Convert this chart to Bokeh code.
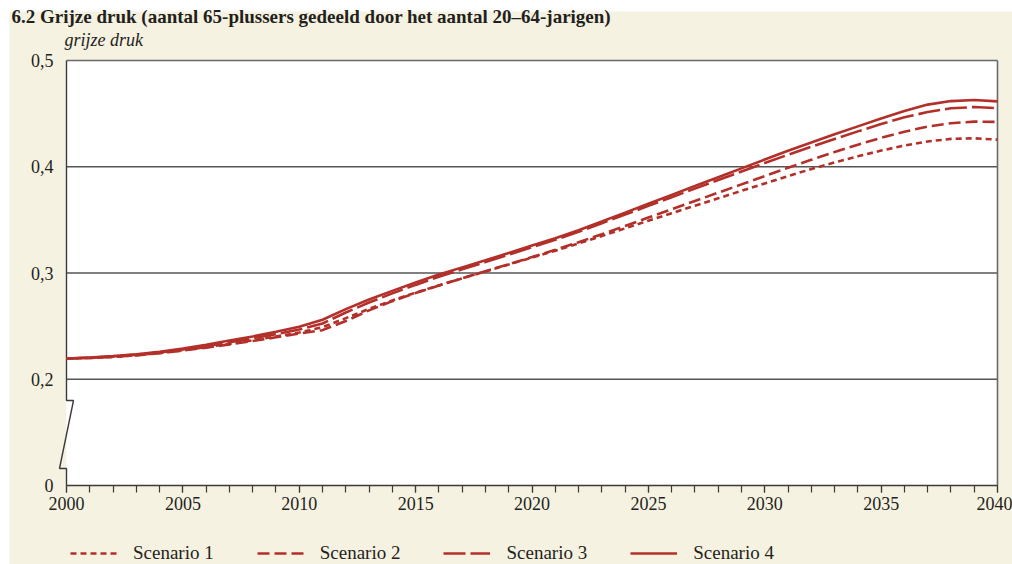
from bokeh.plotting import figure
from bokeh.models import (Range1d, LinearAxis, FixedTicker, SingleIntervalTicker,
                          Label, Legend, LegendItem)
from bokeh.embed import file_html
from bokeh.resources import INLINE

# ---------------- data ----------------
years = list(range(2000, 2041))

scenario_1 = [0.2195, 0.2200, 0.2211, 0.2227, 0.2248, 0.2273, 0.2302, 0.2333, 0.2366, 0.2402,
              0.2440, 0.2490, 0.2575, 0.2662, 0.2742, 0.2815, 0.2883, 0.2950, 0.3015, 0.3080,
              0.3145, 0.3210, 0.3278, 0.3348, 0.3420, 0.3492, 0.3563, 0.3633, 0.3703, 0.3773,
              0.3843, 0.3912, 0.3978, 0.4040, 0.4098, 0.4152, 0.4200, 0.4238, 0.4262, 0.4268,
              0.4255]
scenario_2 = [0.2195, 0.2200, 0.2210, 0.2225, 0.2245, 0.2270, 0.2298, 0.2328, 0.2360, 0.2395,
              0.2430, 0.2462, 0.2548, 0.2648, 0.2735, 0.2812, 0.2882, 0.2950, 0.3017, 0.3083,
              0.3150, 0.3218, 0.3290, 0.3365, 0.3443, 0.3522, 0.3600, 0.3678, 0.3756, 0.3834,
              0.3912, 0.3990, 0.4065, 0.4138, 0.4208, 0.4272, 0.4330, 0.4378, 0.4410, 0.4425,
              0.4422]
scenario_3 = [0.2195, 0.2203, 0.2215, 0.2232, 0.2253, 0.2280, 0.2312, 0.2348, 0.2385, 0.2425,
              0.2468, 0.2525, 0.2628, 0.2722, 0.2808, 0.2888, 0.2965, 0.3035, 0.3103, 0.3172,
              0.3242, 0.3313, 0.3388, 0.3468, 0.3550, 0.3632, 0.3713, 0.3794, 0.3875, 0.3955,
              0.4035, 0.4113, 0.4188, 0.4262, 0.4333, 0.4402, 0.4465, 0.4515, 0.4550, 0.4562,
              0.4552]
scenario_4 = [0.2195, 0.2205, 0.2218, 0.2235, 0.2258, 0.2290, 0.2325, 0.2365, 0.2403, 0.2447,
              0.2495, 0.2560, 0.2660, 0.2750, 0.2832, 0.2910, 0.2985, 0.3053, 0.3120, 0.3188,
              0.3258, 0.3328, 0.3403, 0.3485, 0.3568, 0.3652, 0.3735, 0.3818, 0.3902, 0.3985,
              0.4068, 0.4150, 0.4228, 0.4305, 0.4380, 0.4455, 0.4525, 0.4585, 0.4618, 0.4628,
              0.4615]

series_names = ["Scenario 1", "Scenario 2", "Scenario 3", "Scenario 4"]
series_values = [scenario_1, scenario_2, scenario_3, scenario_4]

# y axis is broken: the bottom tick position stands for 0
y_ticks = [0.1, 0.2, 0.3, 0.4, 0.5]
y_tick_labels = ["0", "0,2", "0,3", "0,4", "0,5"]
grid_values = [0.2, 0.3, 0.4]

title_text = "6.2  Grijze druk (aantal 65-plussers gedeeld door het aantal 20\u201364-jarigen)"
y_title = "grijze druk"

# ---------------- style / layout ----------------
W, H = 1012, 564
BEIGE = "#f6f2e1"
RED = "#b3302a"
TEXT = "#231f20"
AXIS = "#3a3a3a"
GRID = "#555555"
BORDER = "#6a6a6a"
FONT = "Liberation Serif"
DASHES = ["6 4", "12 5", "22 5", "solid"]

X0, X1 = 2000, 2040          # x extent of plot area
Y0, Y1 = 0.1, 0.5            # y extent of plot area (0.1 position = "0")
PX_X0, PX_Y0 = 66, 485       # pixel position of (X0, Y0) on the canvas
X_SCALE = 23.275             # px per year
Y_SCALE = 1062.5             # px per unit


def px2x(px):
    return X0 + (px - PX_X0) / X_SCALE


def py2y(py):
    return Y0 + (PX_Y0 - py) / Y_SCALE


p = figure(width=W, height=H,
           x_range=Range1d(px2x(0), px2x(W)), y_range=Range1d(py2y(H), py2y(0)),
           x_axis_location=None, y_axis_location=None,
           output_backend="svg", toolbar_location=None,
           min_border=0, min_border_left=0, min_border_right=0,
           min_border_top=0, min_border_bottom=0,
           background_fill_color="white", border_fill_color="white",
           outline_line_color=None)
p.title.visible = False
p.xgrid.visible = False
p.ygrid.visible = False

# beige panel and white plot area
p.quad(left=[px2x(9)], right=[px2x(W + 5)], bottom=[py2y(H + 5)], top=[py2y(11)],
       fill_color=BEIGE, line_color=None)
p.quad(left=[X0], right=[X1], bottom=[Y0], top=[Y1],
       fill_color="white", line_color=None)

# horizontal grid lines
p.segment(x0=[X0] * len(grid_values), x1=[X1] * len(grid_values),
          y0=grid_values, y1=grid_values, line_color=GRID, line_width=1.3)

# top and right frame border
p.segment(x0=[X0, X1], y0=[Y1, Y0], x1=[X1, X1], y1=[Y1, Y1],
          line_color=BORDER, line_width=1.6)

# left axis line with break mark
p.line(x=[X0, X0, px2x(73), px2x(59), X0, X0],
       y=[Y1, py2y(400), py2y(400), py2y(468), py2y(468), Y0],
       line_color=AXIS, line_width=1.4)

# series
renderers = []
for name, vals, dash in zip(series_names, series_values, DASHES):
    r = p.line(x=years, y=vals, line_color=RED, line_width=2.6, line_dash=dash)
    renderers.append(r)

# x axis (floating at the bottom of the plot area)
xa = LinearAxis(fixed_location=Y0, bounds=(X0, X1),
                ticker=SingleIntervalTicker(interval=5, num_minor_ticks=5))
xa.axis_line_color = AXIS
xa.axis_line_width = 1.5
xa.major_tick_in = 0
xa.major_tick_out = 7
xa.minor_tick_in = 0
xa.minor_tick_out = 7
xa.major_tick_line_color = AXIS
xa.minor_tick_line_color = AXIS
xa.major_tick_line_width = 1.2
xa.minor_tick_line_width = 1.2
xa.major_label_standoff = 4
xa.major_label_text_font = FONT
xa.major_label_text_font_size = "18px"
xa.major_label_text_color = TEXT
p.add_layout(xa, "below")

# y axis (labels only)
ya = LinearAxis(fixed_location=X0, ticker=FixedTicker(ticks=y_ticks))
ya.major_label_overrides = dict(zip(y_ticks, y_tick_labels))
ya.axis_line_color = None
ya.major_tick_in = 0
ya.major_tick_out = 0
ya.minor_tick_line_color = None
ya.major_label_standoff = 13
ya.major_label_text_font = FONT
ya.major_label_text_font_size = "18px"
ya.major_label_text_color = TEXT
p.add_layout(ya, "left")

# texts
p.add_layout(Label(x=px2x(64), y=py2y(39), text=y_title,
                   text_font=FONT, text_font_style="italic", text_font_size="18px",
                   text_color=TEXT, text_baseline="alphabetic"))
p.add_layout(Label(x=px2x(11), y=py2y(16), text=title_text,
                   text_font=FONT, text_font_style="bold", text_font_size="19px",
                   text_color=TEXT, text_baseline="alphabetic"))

legend = Legend(items=[LegendItem(label=n, renderers=[r]) for n, r in zip(series_names, renderers)],
                location=(70, 0), orientation="horizontal",
                glyph_width=47, glyph_height=20, label_standoff=16, spacing=43,
                padding=0, margin=0, background_fill_alpha=0, border_line_color=None,
                label_text_font=FONT, label_text_font_size="19px", label_text_color=TEXT)
p.add_layout(legend)

open("out.html", "w").write(file_html(p, INLINE))
